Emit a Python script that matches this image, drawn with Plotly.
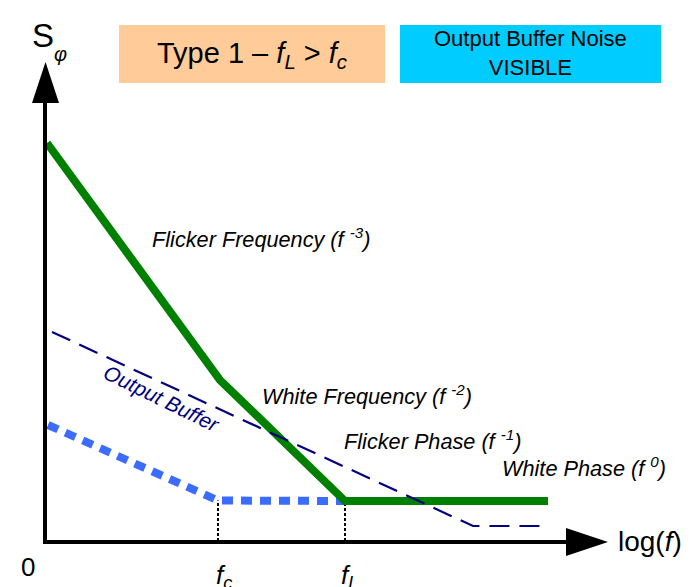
import plotly.graph_objects as go

# ---- data (arbitrary log-log units; origin at the axes corner) ----
f_c = 3.46          # corner frequency of the output buffer
f_L = 6.0           # Leeson frequency
f_end = 10.06       # right end of drawn spectra

oscillator_x = [0.04, 3.5, f_L, f_end]
oscillator_y = [7.96, 3.22, 0.80, 0.80]

buffer_low_x = [0.06, f_c, f_L]
buffer_low_y = [2.32, 0.81, 0.80]

buffer_high_x = [0.14, 8.56, f_end]
buffer_high_y = [4.18, 0.30, 0.30]

region_labels = [
    "<i>Flicker Frequency (f <sup>-3</sup>)</i>",
    "<i>White Frequency (f <sup>-2</sup>)</i>",
    "<i>Flicker Phase (f <sup>-1</sup>)</i>",
    "<i>White Phase (f <sup>0</sup>)</i>",
]
region_label_x = [4.32, 6.44, 7.75, 10.77]
region_label_y = [6.06, 2.92, 2.02, 1.48]

tick_labels = ["0", "<i>f<sub>c</sub></i>", "<i>f<sub>L</sub></i>"]
tick_x = [-0.34, 3.58, 6.08]

# ---- geometry helpers (figure pixels -> axis units) ----
W, H = 693, 587
X0_PX, Y0_PX, SCALE = 45, 541, 50.0


def X(px):
    return (px - X0_PX) / SCALE


def Y(py):
    return (Y0_PX - py) / SCALE


FONT = "Arial, 'Liberation Sans', Helvetica, sans-serif"

fig = go.Figure()

# dotted drop lines at the corner frequencies
for fx, fy in [(f_c, buffer_low_y[1]), (f_L, oscillator_y[2])]:
    fig.add_trace(go.Scatter(x=[fx, fx], y=[0, fy], mode="lines",
                             line=dict(color="black", width=2, dash="3px,2px"),
                             hoverinfo="skip", showlegend=False))

# output-buffer noise (low, thick dashed blue)
fig.add_trace(go.Scatter(x=buffer_low_x, y=buffer_low_y, mode="lines",
                         line=dict(color="#3b6cff", width=8, dash="11px,8px"),
                         hoverinfo="skip", showlegend=False))

# oscillator phase noise (thick green)
fig.add_trace(go.Scatter(x=oscillator_x, y=oscillator_y, mode="lines",
                         line=dict(color="#008000", width=8),
                         hoverinfo="skip", showlegend=False))

# output buffer (thin navy dashed)
fig.add_trace(go.Scatter(x=buffer_high_x, y=buffer_high_y, mode="lines",
                         line=dict(color="#000080", width=2.2, dash="20px,10px"),
                         hoverinfo="skip", showlegend=False))

shapes = [
    # title boxes
    dict(type="rect", xref="x", yref="y", x0=X(119), x1=X(385), y0=Y(25), y1=Y(83),
         fillcolor="#FFCC99", line=dict(width=0), layer="below"),
    dict(type="rect", xref="x", yref="y", x0=X(400), x1=X(661), y0=Y(25), y1=Y(83),
         fillcolor="#00CCFF", line=dict(width=0), layer="below"),
    # axes
    dict(type="line", xref="x", yref="y", x0=0, x1=0, y0=Y(543), y1=Y(100),
         line=dict(color="black", width=4), layer="above"),
    dict(type="line", xref="x", yref="y", x0=X(43), x1=X(570), y0=Y(542), y1=Y(542),
         line=dict(color="black", width=4), layer="above"),
    dict(type="path", xref="x", yref="y",
         path=f"M {X(32)},{Y(103)} L {X(45.5)},{Y(62)} L {X(59)},{Y(103)} Z",
         fillcolor="black", line=dict(width=0), layer="above"),
    dict(type="path", xref="x", yref="y",
         path=f"M {X(566)},{Y(528)} L {X(608)},{Y(542)} L {X(566)},{Y(556)} Z",
         fillcolor="black", line=dict(width=0), layer="above"),
]

annotations = []


def note(text, x, y, size, color="black", angle=0, xanchor="center"):
    annotations.append(dict(text=text, x=x, y=y, xref="x", yref="y",
                            showarrow=False, xanchor=xanchor, yanchor="middle",
                            textangle=angle,
                            font=dict(family=FONT, size=size, color=color)))


note("Type 1 – <i>f<sub>L</sub></i> &gt; <i>f<sub>c</sub></i>", X(252), Y(55), 29)
note("Output Buffer Noise<br>VISIBLE", X(530.5), Y(53), 22)
note("S", X(43), Y(35), 33)
note("<i>φ</i>", X(60), Y(54), 20)
note("log(<i>f</i>)", X(650), Y(541), 28)

for t, x in zip(tick_labels, tick_x):
    note(t, x, Y(567) if t == "0" else Y(576), 26)

for t, x, y in zip(region_labels, region_label_x, region_label_y):
    note(t, x, y, 21.7)

note("<i>Output Buffer</i>", X(162), Y(398), 21, color="#000080", angle=26)

fig.update_layout(
    width=W, height=H,
    margin=dict(l=0, r=0, t=0, b=0),
    paper_bgcolor="white", plot_bgcolor="white",
    xaxis=dict(range=[X(0), X(W)], visible=False, fixedrange=True),
    yaxis=dict(range=[Y(H), Y(0)], visible=False, fixedrange=True),
    shapes=shapes, annotations=annotations,
    showlegend=False, hovermode=False,
)

fig.write_html("out.html", config={"displayModeBar": False})
